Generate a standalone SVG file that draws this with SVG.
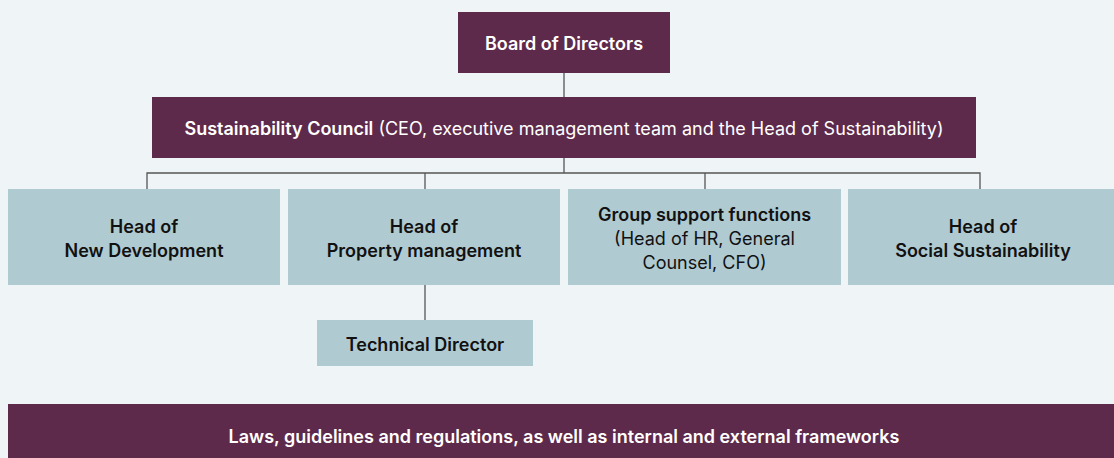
<svg xmlns="http://www.w3.org/2000/svg" width="1114" height="458" viewBox="0 0 1114 458">
  <style>
    .bg { fill: #eff4f7; }
    .dark { fill: #5e2a4b; }
    .light { fill: #b0cad1; }
    .wt { fill: #ffffff; font-family: Inter, "Liberation Sans", sans-serif; font-size: 18px; text-anchor: middle; }
    .bt { fill: #111111; font-family: Inter, "Liberation Sans", sans-serif; font-size: 18px; text-anchor: middle; }
    .b { font-weight: 600; }
    .r { font-weight: 400; }
    .conn { stroke: #555555; stroke-width: 1.3; fill: none; }
  </style>
  <rect class="bg" x="0" y="0" width="1114" height="458"/>

  <g id="connectors">
    <line class="conn" x1="564" y1="73" x2="564" y2="97"/>
    <line class="conn" x1="564" y1="158" x2="564" y2="173"/>
    <polyline class="conn" points="147,189 147,173 980,173 980,189"/>
    <line class="conn" x1="425" y1="173" x2="425" y2="189"/>
    <line class="conn" x1="705" y1="173" x2="705" y2="189"/>
    <line class="conn" x1="425" y1="285" x2="425" y2="320"/>
  </g>

  <g id="board">
    <rect class="dark" x="458" y="12" width="212" height="61"/>
    <text class="wt b" x="564" y="50">Board of Directors</text>
  </g>

  <g id="council">
    <rect class="dark" x="152" y="97" width="824" height="61"/>
    <text class="wt r" x="564" y="135"><tspan class="b">Sustainability Council</tspan> (CEO, executive management team and the Head of Sustainability)</text>
  </g>

  <g id="new-development">
    <rect class="light" x="8" y="189" width="272" height="96"/>
    <text class="bt b" x="144" y="233">Head of</text>
    <text class="bt b" x="144" y="257">New Development</text>
  </g>

  <g id="property-management">
    <rect class="light" x="288" y="189" width="272" height="96"/>
    <text class="bt b" x="424" y="233">Head of</text>
    <text class="bt b" x="424" y="257">Property management</text>
  </g>

  <g id="group-support">
    <rect class="light" x="568" y="189" width="273" height="96"/>
    <text class="bt b" x="704.5" y="221">Group support functions</text>
    <text class="bt r" x="704.5" y="245">(Head of HR, General</text>
    <text class="bt r" x="704.5" y="269">Counsel, CFO)</text>
  </g>

  <g id="social-sustainability">
    <rect class="light" x="848" y="189" width="272" height="96"/>
    <text class="bt b" x="983" y="233">Head of</text>
    <text class="bt b" x="983" y="257">Social Sustainability</text>
  </g>

  <g id="technical-director">
    <rect class="light" x="317" y="320" width="216" height="46"/>
    <text class="bt b" x="425" y="351">Technical Director</text>
  </g>

  <g id="frameworks">
    <rect class="dark" x="8" y="404" width="1112" height="60"/>
    <text class="wt b" x="564" y="443">Laws, guidelines and regulations, as well as internal and external frameworks</text>
  </g>
</svg>
